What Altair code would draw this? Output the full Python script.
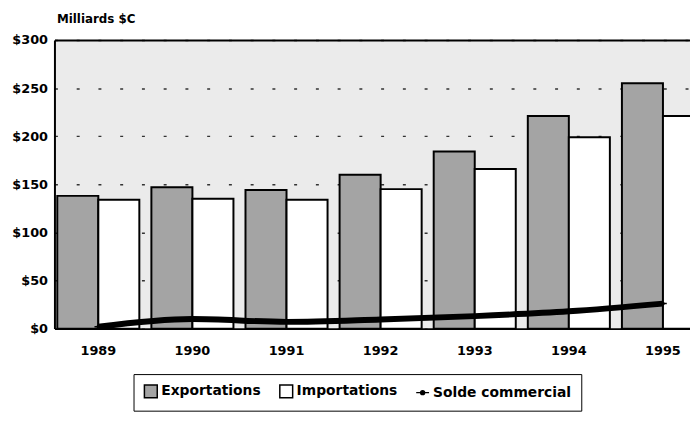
import altair as alt
import pandas as pd

years = ["1989", "1990", "1991", "1992", "1993", "1994", "1995"]
exportations = [138, 147, 144, 160, 184, 221, 255]
importations = [134, 135, 134, 145, 166, 199, 221]
solde = [2, 10, 7, 9.5, 13, 18, 26]
series = ["Exportations", "Importations", "Solde commercial"]
y_ticks = [0, 50, 100, 150, 200, 250, 300]

bars_df = pd.DataFrame({
    "Année": years * 2,
    "Série": ["Exportations"] * len(years) + ["Importations"] * len(years),
    "Valeur": exportations + importations,
})
line_df = pd.DataFrame({"Année": years, "Série": "Solde commercial", "Valeur": solde})

FONT = "DejaVu Sans"

xscale = alt.Scale(domain=years, range=[0, 660], paddingInner=0.128, paddingOuter=0.03)
yscale = alt.Scale(domain=[0, 300], nice=False)
color_scale = alt.Scale(domain=series, range=["#a4a4a4", "#ffffff", "#000000"])
line_glyph = "M-1,0L1,0M-0.3,0A0.3,0.3 0 1,0 0.3,0A0.3,0.3 0 1,0 -0.3,0"
shape_scale = alt.Scale(domain=series, range=["square", "square", line_glyph])

x_axis = alt.Axis(
    title=None, labelAngle=0, ticks=False, tickSize=0, domainColor="black", domainWidth=2,
    labelPadding=16, labelFont=FONT, labelFontSize=13, labelFontWeight="bold",
    labelColor="black", grid=False,
)
x_top = alt.Axis(
    orient="top", title=None, labels=False, ticks=False, tickSize=0,
    domainColor="black", domainWidth=2, grid=False,
)
y_axis = alt.Axis(
    values=y_ticks, labelExpr="'$' + datum.value", ticks=False, tickSize=0,
    domain=True, domainColor="black", domainWidth=2,
    labelPadding=7, labelFont=FONT, labelFontSize=13, labelFontWeight="bold", labelColor="black",
    grid=True, gridColor="#333333", gridWidth=1.5, gridDash=[3, 19],
    title="Milliards $C", titleAngle=0, titleAlign="left", titleBaseline="middle",
    titleX=2, titleY=-22, titleFont=FONT, titleFontSize=12, titleFontWeight="bold", titleColor="black",
)

legend = alt.Legend(
    title=None, orient="none", legendX=80, legendY=338, direction="horizontal",
    strokeColor="black", fillColor="white", padding=10, cornerRadius=0,
    symbolSize=169, symbolStrokeColor="black", symbolStrokeWidth=1.5,
    labelFont=FONT, labelFontSize=14, labelFontWeight="bold", labelColor="black",
    labelOffset=3, columnPadding=16,
)

bars = alt.Chart(bars_df).mark_bar(stroke="black", strokeWidth=2).encode(
    x=alt.X("Année:N", scale=xscale, axis=x_axis),
    xOffset=alt.XOffset("Série:N", sort=["Exportations", "Importations"],
                        scale=alt.Scale(paddingInner=0, paddingOuter=0)),
    y=alt.Y("Valeur:Q", scale=yscale, axis=y_axis),
    color=alt.Color("Série:N", scale=color_scale, legend=legend),
)

line = alt.Chart(line_df).mark_line(color="black", strokeWidth=6, interpolate="monotone").encode(
    x=alt.X("Année:N", scale=xscale, axis=x_top),
    y=alt.Y("Valeur:Q", scale=yscale),
)

pts = alt.Chart(line_df).mark_point(filled=True, size=60, stroke="black", strokeWidth=1.5, opacity=1).encode(
    x=alt.X("Année:N", scale=xscale, axis=None),
    y=alt.Y("Valeur:Q", scale=yscale),
    color=alt.Color("Série:N", scale=color_scale, legend=legend),
    shape=alt.Shape("Série:N", scale=shape_scale, legend=legend),
)

chart = alt.layer(bars, line, pts).resolve_axis(x="independent").properties(
    width=643, height=292,
    autosize=alt.AutoSizeParams(type="none"),
    padding={"left": 47, "top": 30, "right": 0, "bottom": 85},
).configure_view(fill="#ebebeb", stroke=None)

chart.save("out.html", embed_options={"renderer": "svg", "actions": False})
